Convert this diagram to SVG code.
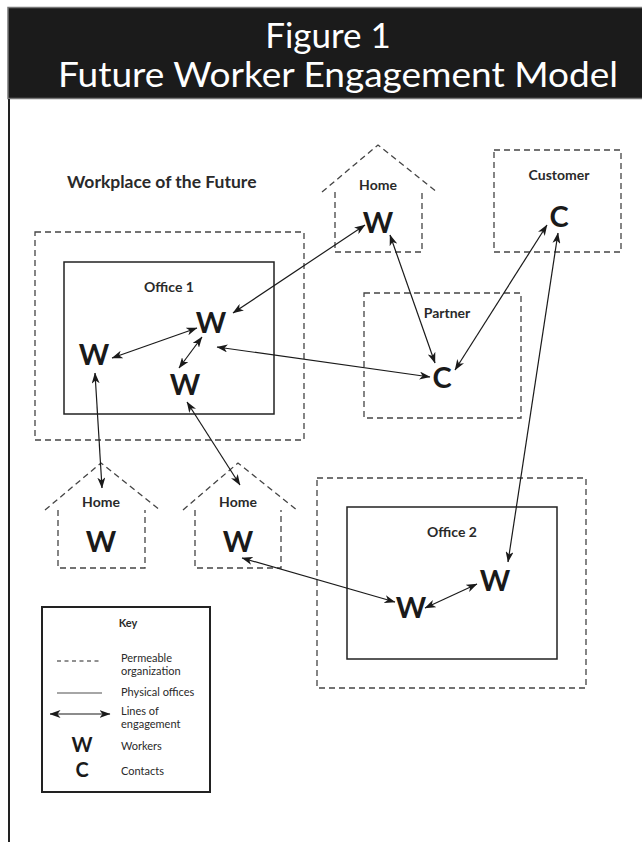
<svg xmlns="http://www.w3.org/2000/svg" width="642" height="842" viewBox="0 0 642 842">
<defs>
<marker id="ah" viewBox="0 0 11 8" refX="10.5" refY="4" markerWidth="11" markerHeight="8" markerUnits="userSpaceOnUse" orient="auto-start-reverse">
<path d="M0,0 L11,4 L0,8 L3,4 z" fill="#1a1a1a"/>
</marker>
<style>
.dash{fill:none;stroke:#444;stroke-width:1.3;stroke-dasharray:6 4}
.solid{fill:none;stroke:#222;stroke-width:1.5}
.lbl{font-family:Lato,"Liberation Sans",sans-serif;font-weight:bold;font-size:14px;fill:#2a2a2a;text-anchor:middle}
.big{font-family:Lato,"Liberation Sans",sans-serif;font-weight:bold;font-size:29px;fill:#1a1a1a;text-anchor:middle}
.key{font-family:Lato,"Liberation Sans",sans-serif;font-size:11px;fill:#2a2a2a}
.title{font-family:Lato,"Liberation Sans",sans-serif;font-size:35px;fill:#ffffff;text-anchor:middle}
.conn line{stroke:#1a1a1a;stroke-width:1.2;marker-start:url(#ah);marker-end:url(#ah)}
</style>
</defs>
<rect x="0" y="0" width="642" height="842" fill="#ffffff"/>
<g id="header">
<rect x="8" y="7.5" width="640" height="91" fill="#1b1b1b" stroke="#777" stroke-width="1.5"/>
<text class="title" x="328" y="48">Figure 1</text>
<text class="title" x="338" y="87" textLength="560" lengthAdjust="spacingAndGlyphs">Future Worker Engagement Model</text>
</g>
<line x1="9" y1="99" x2="9" y2="842" stroke="#222" stroke-width="2"/>
<text x="67" y="188" style="font-family:Lato,'Liberation Sans',sans-serif;font-weight:bold;font-size:17.5px;fill:#2a2a2a">Workplace of the Future</text>

<g id="office1">
<rect class="dash" x="35" y="232" width="269" height="208"/>
<rect class="solid" x="64" y="262" width="210" height="152"/>
<text class="lbl" x="169" y="292">Office 1</text>
<text class="big" x="211" y="333">W</text>
<text class="big" x="94" y="365">W</text>
<text class="big" x="185" y="395">W</text>
</g>
<g id="home-top">
<path class="dash" d="M322,192 L378,145 L437,192"/>
<path class="dash" d="M335,192 L335,252 L422,252 L422,192"/>
<text class="lbl" x="378" y="190">Home</text>
<text class="big" x="378" y="233">W</text>
</g>
<g id="customer">
<rect class="dash" x="494" y="150" width="127" height="102"/>
<text class="lbl" x="559" y="180">Customer</text>
<text class="big" x="559" y="227">C</text>
</g>
<g id="partner">
<rect class="dash" x="364" y="293" width="157" height="125"/>
<text class="lbl" x="447" y="318">Partner</text>
<text class="big" x="442" y="388">C</text>
</g>
<g id="home-left">
<path class="dash" d="M45,510 L101,463 L160,510"/>
<path class="dash" d="M58,510 L58,568 L145,568 L145,510"/>
<text class="lbl" x="101" y="507">Home</text>
<text class="big" x="101" y="552">W</text>
</g>
<g id="home-mid">
<path class="dash" d="M183,510 L238,463 L297,510"/>
<path class="dash" d="M195,510 L195,568 L281,568 L281,510"/>
<text class="lbl" x="238" y="507">Home</text>
<text class="big" x="238" y="552">W</text>
</g>
<g id="office2">
<rect class="dash" x="317" y="478" width="269" height="210"/>
<rect class="solid" x="347" y="507" width="210" height="152"/>
<text class="lbl" x="452" y="537">Office 2</text>
<text class="big" x="495" y="591">W</text>
<text class="big" x="411" y="618">W</text>
</g>

<g id="connectors" class="conn">
<line x1="233" y1="313" x2="365" y2="225"/>
<line x1="112" y1="358" x2="197" y2="328"/>
<line x1="202" y1="337" x2="179" y2="368"/>
<line x1="217" y1="347" x2="430" y2="377"/>
<line x1="95" y1="373" x2="102" y2="488"/>
<line x1="187" y1="402" x2="240" y2="485"/>
<line x1="390" y1="235" x2="435" y2="363"/>
<line x1="455" y1="370" x2="547" y2="225"/>
<line x1="558" y1="233" x2="508" y2="562"/>
<line x1="242" y1="558" x2="395" y2="602"/>
<line x1="425" y1="608" x2="477" y2="584"/>
</g>

<g id="key">
<rect x="42" y="607" width="168" height="185" fill="none" stroke="#222" stroke-width="2"/>
<text x="128" y="627" style="font-family:Lato,'Liberation Sans',sans-serif;font-weight:bold;font-size:11px;fill:#2a2a2a;text-anchor:middle">Key</text>
<line x1="57" y1="661" x2="100" y2="661" stroke="#222" stroke-width="1" stroke-dasharray="4 3.5"/>
<text class="key" x="121" y="662">Permeable</text>
<text class="key" x="121" y="675">organization</text>
<line x1="57" y1="693" x2="102" y2="693" stroke="#888" stroke-width="1.5"/>
<text class="key" x="121" y="696">Physical offices</text>
<line x1="50" y1="714" x2="110" y2="714" stroke="#1a1a1a" stroke-width="1.2" marker-start="url(#ah)" marker-end="url(#ah)"/>
<text class="key" x="121" y="715">Lines of</text>
<text class="key" x="121" y="728">engagement</text>
<text x="82" y="752" style="font-family:Lato,'Liberation Sans',sans-serif;font-weight:bold;font-size:20px;fill:#1a1a1a;text-anchor:middle">W</text>
<text class="key" x="121" y="750">Workers</text>
<text x="82" y="777" style="font-family:Lato,'Liberation Sans',sans-serif;font-weight:bold;font-size:20px;fill:#1a1a1a;text-anchor:middle">C</text>
<text class="key" x="121" y="775">Contacts</text>
</g>
</svg>
